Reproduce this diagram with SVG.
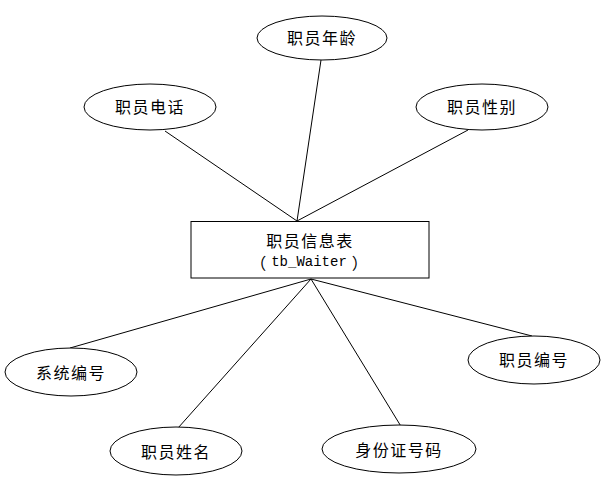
<svg xmlns="http://www.w3.org/2000/svg" width="612" height="490" viewBox="0 0 612 490">
<style>
.shape{fill:#fff;stroke:#000;stroke-width:1}
.lbl{font-family:"Noto Sans CJK SC","Liberation Sans",sans-serif;font-size:16px;letter-spacing:1.5px;fill:#000;text-anchor:middle;dominant-baseline:central}
.mono{font-family:"Liberation Mono",monospace;font-size:14px;letter-spacing:0}
.paren{letter-spacing:0}
.conn line{stroke:#000;stroke-width:1}
</style>
<rect width="612" height="490" fill="#fff"/>
<g class="conn" id="connectors">
<line x1="321" y1="60" x2="297" y2="221"/>
<line x1="165" y1="131" x2="297" y2="221"/>
<line x1="468" y1="130" x2="297" y2="221"/>
<line x1="311" y1="279" x2="70" y2="348"/>
<line x1="311" y1="279" x2="178" y2="428"/>
<line x1="311" y1="279" x2="402" y2="428"/>
<line x1="311" y1="279" x2="532" y2="336"/>
</g>
<g id="main">
<rect class="shape" x="191" y="221.5" width="238" height="56.5"/>
<text class="lbl" x="310" y="240">职员信息表</text>
<text class="lbl paren" x="309" y="262">（<tspan class="mono" dx="5">tb_Waiter</tspan><tspan dx="5">）</tspan></text>
</g>
<g id="age"><ellipse class="shape" cx="322" cy="38" rx="65" ry="22"/><text class="lbl" x="322" y="37">职员年龄</text></g>
<g id="phone"><ellipse class="shape" cx="150" cy="107" rx="66" ry="23"/><text class="lbl" x="150" y="106">职员电话</text></g>
<g id="gender"><ellipse class="shape" cx="482" cy="107" rx="66" ry="23"/><text class="lbl" x="482" y="106">职员性别</text></g>
<g id="sysid"><ellipse class="shape" cx="71" cy="372" rx="66" ry="24"/><text class="lbl" x="71" y="372">系统编号</text></g>
<g id="empid"><ellipse class="shape" cx="534" cy="360" rx="66" ry="24"/><text class="lbl" x="534" y="359">职员编号</text></g>
<g id="name"><ellipse class="shape" cx="176" cy="451" rx="66" ry="24"/><text class="lbl" x="176" y="451">职员姓名</text></g>
<g id="idcard"><ellipse class="shape" cx="399" cy="449" rx="77" ry="24"/><text class="lbl" x="399" y="449">身份证号码</text></g>
</svg>
